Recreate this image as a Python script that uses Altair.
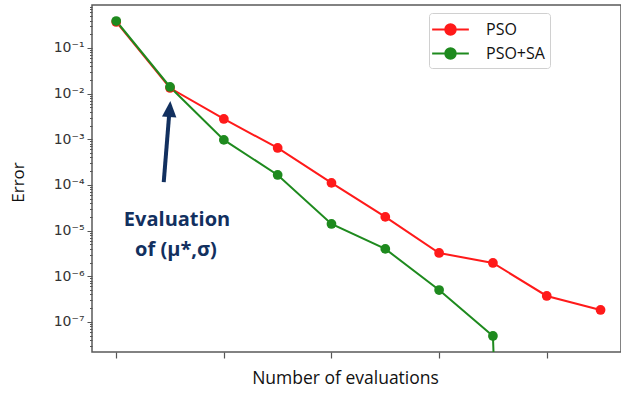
import altair as alt
import pandas as pd

# ---------------- data ----------------
evals = [0, 1, 2, 3, 4, 5, 6, 7, 8, 9]
pso = [0.371, 0.0133, 2.79e-3, 6.46e-4, 1.11e-4, 2.0e-5, 3.24e-6, 1.96e-6, 3.71e-7, 1.83e-7]
pso_sa = [0.39, 0.014, 9.7e-4, 1.66e-4, 1.4e-5, 3.98e-6, 5.0e-7, 4.94e-8, 1e-40]
series_names = ["PSO", "PSO+SA"]
series_colors = ["#ff1a1a", "#1e8a1e"]

x_ticks = [0, 2, 4, 6, 8]
y_major = [1e-1, 1e-2, 1e-3, 1e-4, 1e-5, 1e-6, 1e-7]
y_labels = ["10⁻¹", "10⁻²", "10⁻³", "10⁻⁴", "10⁻⁵", "10⁻⁶", "10⁻⁷"]
y_minor_mult = [2, 3, 4, 5, 6, 7, 8, 9]
y_minor_exp = [-8, -7, -6, -5, -4, -3, -2, -1]

x_domain = [-0.45, 9.38]
y_domain = [2.2e-8, 0.874]

# annotation (data coordinates)
arrow_tail = (0.883, 1.16e-4)
arrow_shaft_top = (0.985, 3.6e-3)
arrow_head = (0.995, 4.6e-3)
note_lines = ["Evaluation", "of (μ*,σ)"]
note_x = [1.13, 1.11]
note_y = [1.71e-5, 3.78e-6]
navy = "#12305f"

rows = []
for name, vals in zip(series_names, [pso, pso_sa]):
    for e, v in zip(evals, vals):
        rows.append({"evals": e, "error": v, "series": name})
df = pd.DataFrame(rows)

y_minor = [m * 10.0 ** e for e in y_minor_exp for m in y_minor_mult
           if y_domain[0] <= m * 10.0 ** e <= y_domain[1]]

label_expr = "''"
for v, lab in zip(reversed(y_major), reversed(y_labels)):
    label_expr = f"abs(datum.value - {v}) < {v * 1e-6} ? '{lab}' : ({label_expr})"
major_test = " || ".join(f"abs(datum.value - {v}) < {v * 1e-6}" for v in y_major)

x_scale = alt.Scale(domain=x_domain, nice=False, zero=False)
y_scale = alt.Scale(type="log", domain=y_domain, nice=False)
fill_scale = alt.Scale(domain=series_names, range=series_colors)

legend_symbol = "M-1.75,0 L1.75,0 M-0.5,0 A0.5,0.5 0 1,1 0.5,0 A0.5,0.5 0 1,1 -0.5,0 Z"
legend = alt.Legend(
    title=None,
    orient="none", legendX=337, legendY=8,
    symbolType=legend_symbol, symbolSize=440, symbolStrokeWidth=2,
    symbolOffset=5, labelOffset=24,
    labelFont="Open Sans", labelFontSize=16, labelColor="#111",
    padding=5, rowPadding=3, strokeColor="#d0d0d0", cornerRadius=3,
    fillColor="white",
)

x_axis = alt.Axis(
    values=x_ticks, labels=False, tickSize=6, tickColor="#555", tickWidth=1.2,
    domain=False, grid=False,
    title="Number of evaluations", titleFont="Open Sans", titleFontSize=17.5,
    titleFontWeight="normal", titleColor="#111",
    titleX=253, titleY=26, titleAlign="center", titleBaseline="middle",
)
y_axis = alt.Axis(
    values=y_major + y_minor, labelExpr=label_expr, labelOverlap=False,
    tickSize={"condition": {"test": major_test, "value": 5}, "value": 2.5},
    tickColor="#555", tickWidth=1, domain=False, grid=False,
    labelFont="DejaVu Sans", labelFontSize=14, labelColor="#333", labelPadding=3,
    title="Error", titleFont="Open Sans", titleFontSize=17,
    titleFontWeight="normal", titleColor="#111",
    titleX=-74, titleY=177, titleAngle=270, titleAlign="center", titleBaseline="middle",
)

base = alt.Chart(df).encode(
    x=alt.X("evals:Q", scale=x_scale, axis=x_axis),
    y=alt.Y("error:Q", scale=y_scale, axis=y_axis),
)

lines = base.mark_line(strokeWidth=2, clip=True).encode(
    stroke=alt.Stroke("series:N", scale=fill_scale, legend=legend),
)
points = base.mark_point(filled=True, size=95, opacity=1, clip=True).encode(
    fill=alt.Fill("series:N", scale=fill_scale, legend=legend),
)

arrow_df = pd.DataFrame({
    "x": [arrow_tail[0]], "y": [arrow_tail[1]],
    "x2": [arrow_shaft_top[0]], "y2": [arrow_shaft_top[1]],
})
shaft = alt.Chart(arrow_df).mark_rule(strokeWidth=4, color=navy).encode(
    x=alt.X("x:Q", scale=x_scale), y=alt.Y("y:Q", scale=y_scale),
    x2="x2:Q", y2="y2:Q",
)
head_df = pd.DataFrame({"x": [arrow_head[0]], "y": [arrow_head[1]]})
head = alt.Chart(head_df).mark_point(
    shape="M0,-1 L0.9,1 L-0.9,1 Z", filled=True, size=256, angle=4,
    color=navy, opacity=1,
).encode(x=alt.X("x:Q", scale=x_scale), y=alt.Y("y:Q", scale=y_scale))

note_df = pd.DataFrame({"x": note_x, "y": note_y, "text": note_lines})
note = alt.Chart(note_df).mark_text(
    font="Open Sans", fontWeight="bold", fontSize=20, color=navy,
    align="center", baseline="middle",
).encode(x=alt.X("x:Q", scale=x_scale), y=alt.Y("y:Q", scale=y_scale), text="text:N")

chart = alt.layer(lines, points, shaft, head, note).properties(
    width=529, height=347,
    autosize=alt.AutoSizeParams(type="none"),
    padding={"left": 92, "top": 5, "right": 0, "bottom": 44},
    background="white",
).configure_view(stroke="#5a5a5a", strokeWidth=1.5)

chart.save("out.html", embed_options={"renderer": "svg", "actions": False})
